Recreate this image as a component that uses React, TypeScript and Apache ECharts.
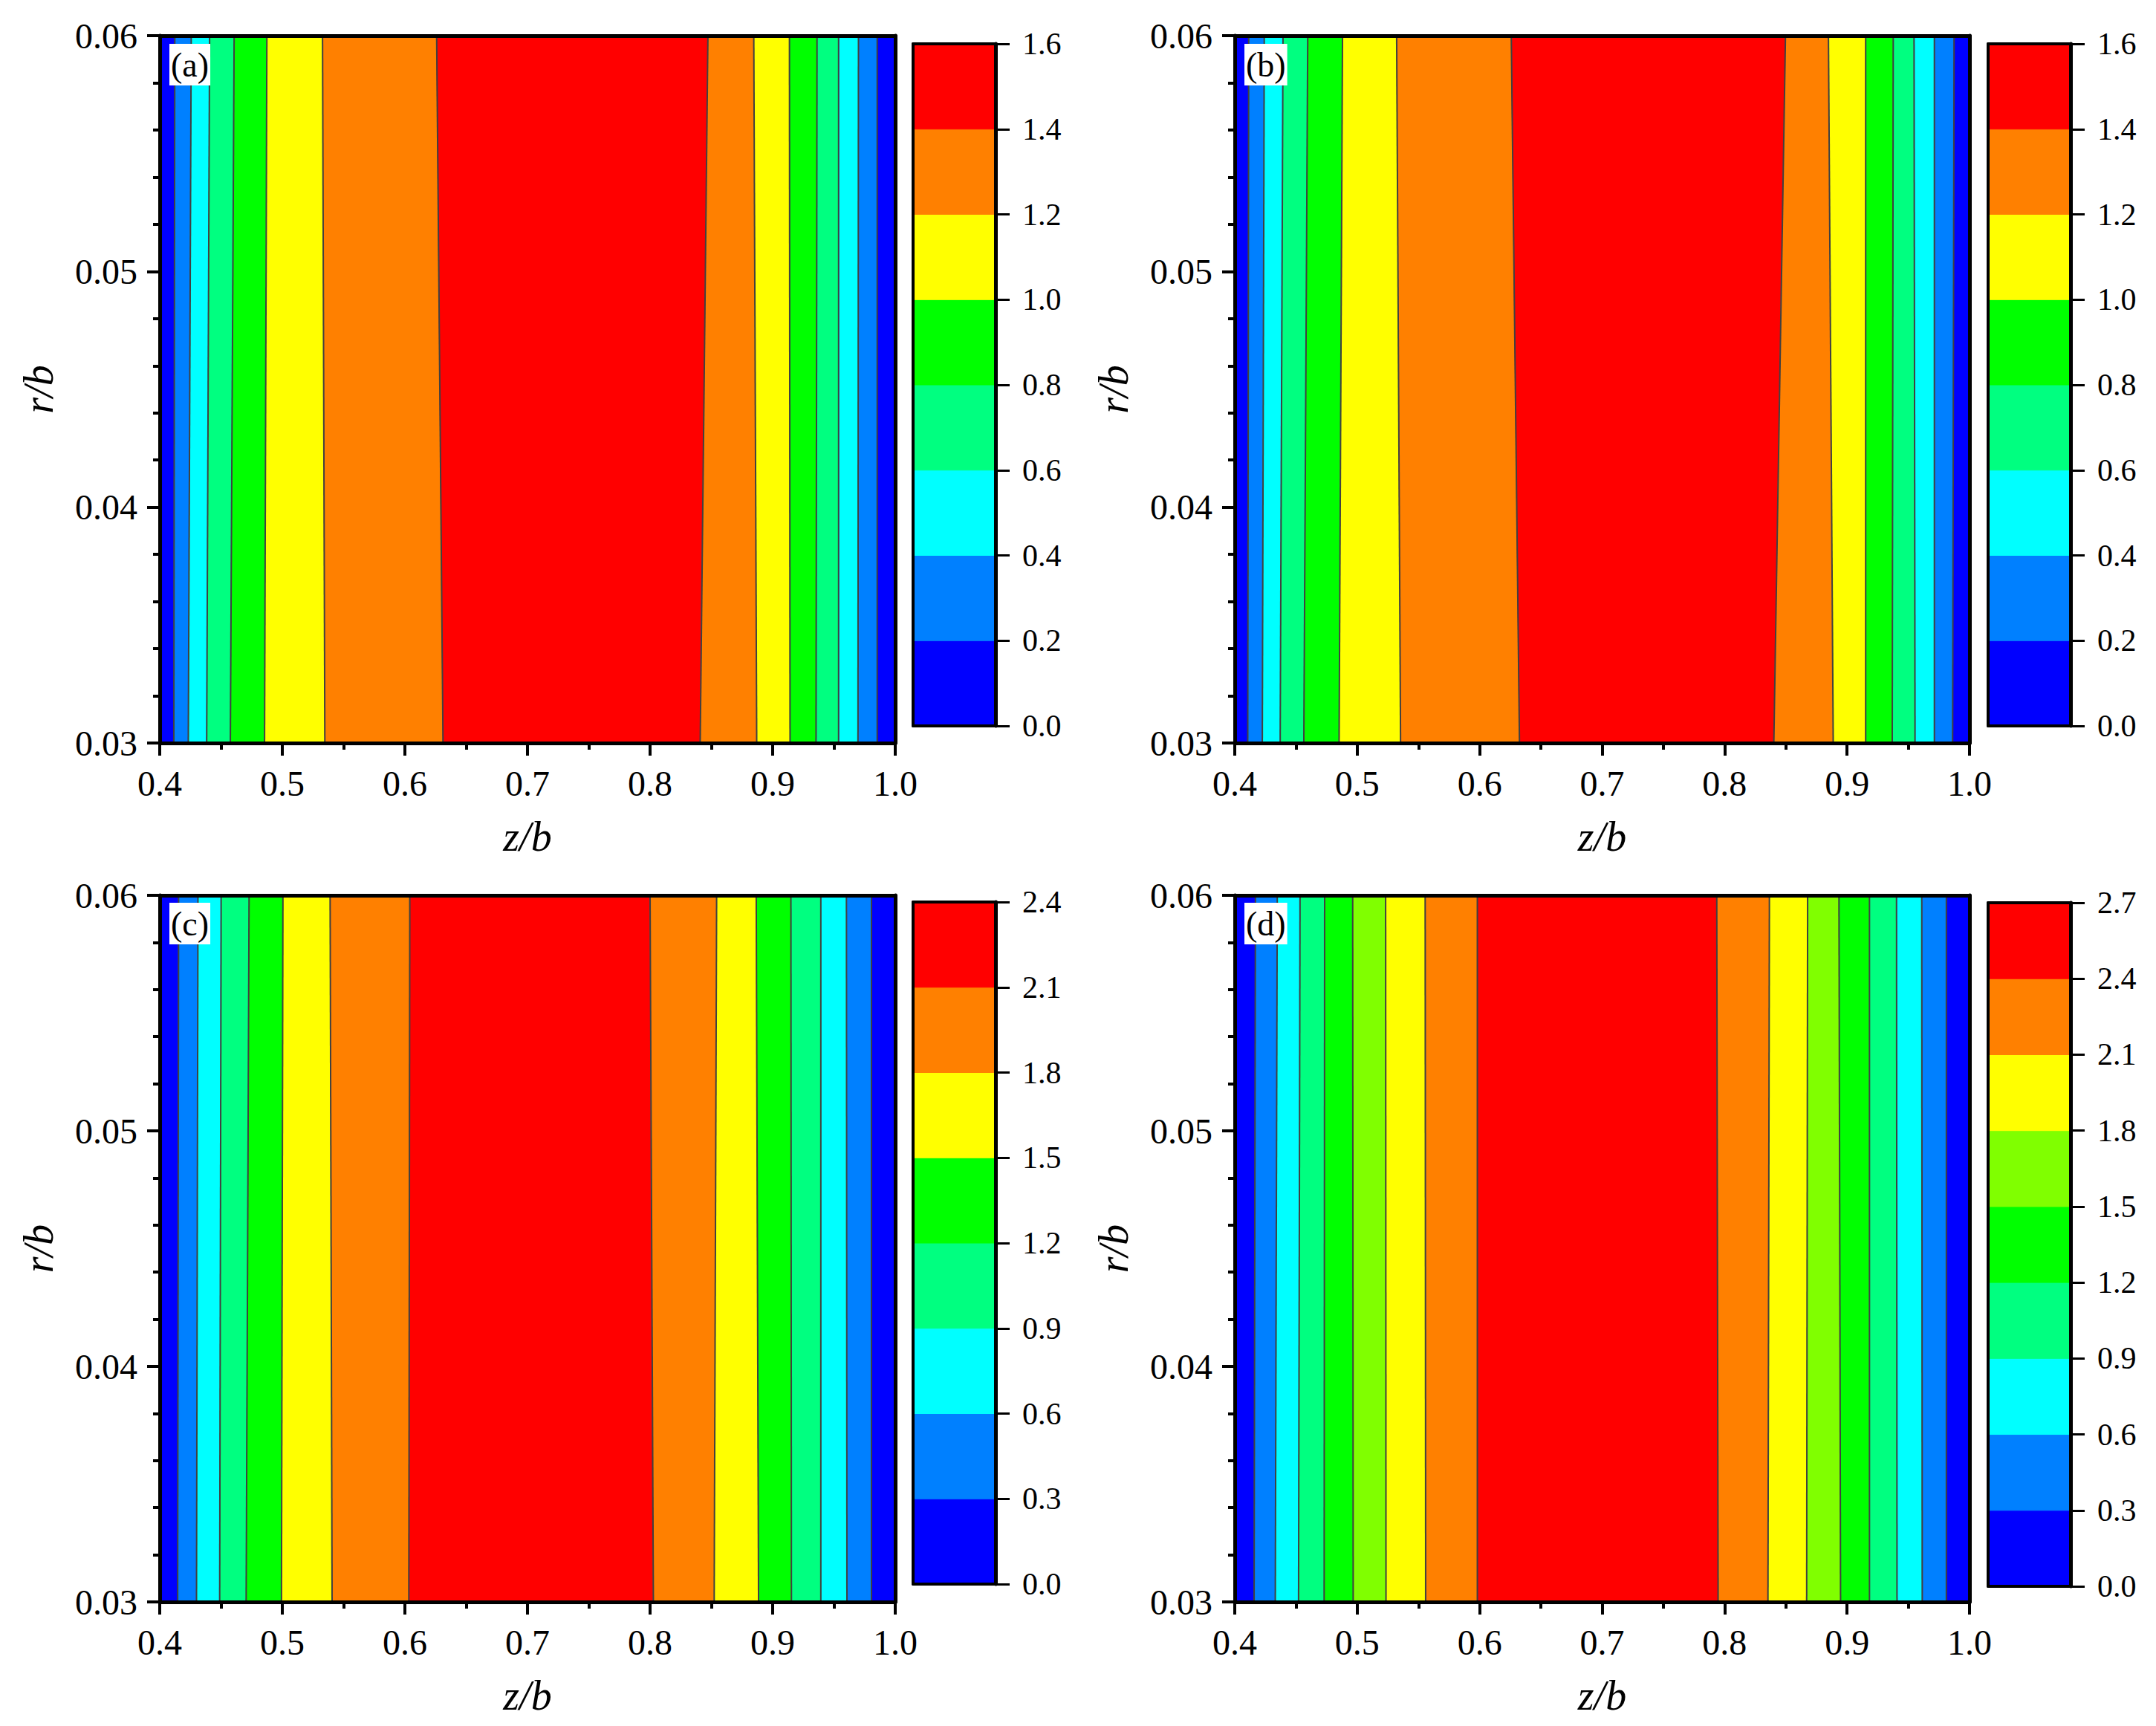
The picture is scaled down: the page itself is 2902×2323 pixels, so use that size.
import React, { useEffect, useRef } from "react";
import * as echarts from "echarts";

const FONT = "'Liberation Serif', 'Times New Roman', serif";

// band colours, lowest level first
const colors8 = ["#0000ff", "#0080ff", "#00ffff", "#00ff80", "#00ff00", "#ffff00", "#ff8000", "#ff0000"];
const colors9 = ["#0000ff", "#0080ff", "#00ffff", "#00ff80", "#00ff00", "#80ff00", "#ffff00", "#ff8000", "#ff0000"];

// colour-bar levels
const levelsA = [0, 0.2, 0.4, 0.6, 0.8, 1.0, 1.2, 1.4, 1.6];
const levelsB = [0, 0.2, 0.4, 0.6, 0.8, 1.0, 1.2, 1.4, 1.6];
const levelsC = [0, 0.3, 0.6, 0.9, 1.2, 1.5, 1.8, 2.1, 2.4];
const levelsD = [0, 0.3, 0.6, 0.9, 1.2, 1.5, 1.8, 2.1, 2.4, 2.7];

// level band index of each region, left (z/b = 0.4) to right (z/b = 1.0)
const bandsA = [0, 1, 2, 3, 4, 5, 6, 7, 6, 5, 4, 3, 2, 1, 0];
const bandsB = [0, 1, 2, 3, 4, 5, 6, 7, 6, 5, 4, 3, 2, 1, 0];
const bandsC = [0, 1, 2, 3, 4, 5, 6, 7, 6, 5, 4, 3, 2, 1, 0];
const bandsD = [0, 1, 2, 3, 4, 5, 6, 7, 8, 7, 6, 5, 4, 3, 2, 1, 0];

// contour positions (z/b) at r/b = 0.06 (top) and r/b = 0.03 (bottom)
const zTopA = [0.4123, 0.4257, 0.4407, 0.4607, 0.4874, 0.5328, 0.6259, 0.8472, 0.8846, 0.9137, 0.9362, 0.9538, 0.97, 0.9853];
const zBotA = [0.4115, 0.4233, 0.4383, 0.4576, 0.4855, 0.5347, 0.6311, 0.8409, 0.887, 0.9142, 0.9354, 0.9538, 0.9696, 0.9853];
const zTopB = [0.4114, 0.4241, 0.4394, 0.4596, 0.488, 0.5322, 0.6258, 0.8497, 0.8848, 0.9152, 0.9377, 0.9547, 0.9713, 0.9874];
const zBotB = [0.4106, 0.4225, 0.4371, 0.4564, 0.4852, 0.5354, 0.6325, 0.8402, 0.8887, 0.9152, 0.9369, 0.9555, 0.9713, 0.9862];
const zTopC = [0.4154, 0.4312, 0.4501, 0.4729, 0.5005, 0.539, 0.604, 0.8, 0.8543, 0.8866, 0.9149, 0.9393, 0.9602, 0.9806];
const zBotC = [0.4146, 0.43, 0.4489, 0.4705, 0.4993, 0.5406, 0.6032, 0.8027, 0.8523, 0.8885, 0.9153, 0.9393, 0.9606, 0.9806];
const zTopD = [0.4169, 0.4347, 0.4533, 0.4734, 0.4963, 0.5232, 0.5555, 0.5981, 0.7936, 0.8366, 0.8678, 0.8934, 0.9183, 0.9404, 0.961, 0.9811];
const zBotD = [0.4158, 0.4331, 0.4521, 0.473, 0.4967, 0.5235, 0.5559, 0.5981, 0.7947, 0.8354, 0.867, 0.8947, 0.9183, 0.9408, 0.9614, 0.9811];

// axis ranges
const zRange = [0.4, 1.0];
const zStep = 0.1;
const rRange = [0.03, 0.06];
const rStep = 0.01;

const panels = [
  { label: "(a)", zTop: zTopA, zBot: zBotA, bands: bandsA, levels: levelsA, colors: colors8,
    grid: { left: 215, top: 48, width: 990, height: 952 }, cb: { left: 1229, top: 59, width: 111, height: 918 }, tag: { left: 228, top: 59 } },
  { label: "(b)", zTop: zTopB, zBot: zBotB, bands: bandsB, levels: levelsB, colors: colors8,
    grid: { left: 1662, top: 48, width: 989, height: 952 }, cb: { left: 2676, top: 59, width: 111, height: 918 }, tag: { left: 1675, top: 59 } },
  { label: "(c)", zTop: zTopC, zBot: zBotC, bands: bandsC, levels: levelsC, colors: colors8,
    grid: { left: 215, top: 1205, width: 990, height: 951 }, cb: { left: 1229, top: 1214, width: 111, height: 918 }, tag: { left: 228, top: 1215 } },
  { label: "(d)", zTop: zTopD, zBot: zBotD, bands: bandsD, levels: levelsD, colors: colors9,
    grid: { left: 1662, top: 1205, width: 989, height: 951 }, cb: { left: 2676, top: 1215, width: 111, height: 920 }, tag: { left: 1675, top: 1215 } },
];

const black = "#000";

function buildOption() {
  const grid: any[] = [];
  const xAxis: any[] = [];
  const yAxis: any[] = [];
  const series: any[] = [];
  const title: any[] = [];

  panels.forEach((p) => {
    const gi = grid.length;
    grid.push({ ...p.grid, containLabel: false });
    grid.push({ ...p.cb, containLabel: false });
    const ci = gi + 1;
    const xi = xAxis.length;
    const yi = yAxis.length;

    // main plot axes
    xAxis.push({
      type: "value", gridIndex: gi, position: "bottom", min: zRange[0], max: zRange[1], interval: zStep, z: 10,
      axisLine: { show: true, onZero: false, lineStyle: { color: black, width: 5 } },
      axisTick: { show: true, inside: false, length: 17, lineStyle: { color: black, width: 4 } },
      minorTick: { show: true, splitNumber: 2, length: 9, lineStyle: { color: black, width: 4 } },
      splitLine: { show: false }, minorSplitLine: { show: false },
      axisLabel: { fontFamily: FONT, fontSize: 48, color: black, margin: 30, showMinLabel: true, showMaxLabel: true,
        formatter: (v: number) => v.toFixed(1) },
      name: "z/b", nameLocation: "middle", nameGap: 98,
      nameTextStyle: { fontFamily: FONT, fontStyle: "italic", fontSize: 56, color: black },
    });
    xAxis.push({
      type: "value", gridIndex: gi, position: "top", min: zRange[0], max: zRange[1], z: 10,
      axisLine: { show: true, onZero: false, lineStyle: { color: black, width: 5 } },
      axisTick: { show: false }, axisLabel: { show: false }, splitLine: { show: false },
    });
    // colour-bar x axes (frame only)
    xAxis.push({
      type: "value", gridIndex: ci, position: "bottom", min: 0, max: 1, z: 10,
      axisLine: { show: true, onZero: false, lineStyle: { color: black, width: 4 } },
      axisTick: { show: false }, axisLabel: { show: false }, splitLine: { show: false },
    });
    xAxis.push({
      type: "value", gridIndex: ci, position: "top", min: 0, max: 1, z: 10,
      axisLine: { show: true, onZero: false, lineStyle: { color: black, width: 4 } },
      axisTick: { show: false }, axisLabel: { show: false }, splitLine: { show: false },
    });

    yAxis.push({
      type: "value", gridIndex: gi, position: "left", min: rRange[0], max: rRange[1], interval: rStep, z: 10,
      axisLine: { show: true, onZero: false, lineStyle: { color: black, width: 5 } },
      axisTick: { show: true, inside: false, length: 17, lineStyle: { color: black, width: 4 } },
      minorTick: { show: true, splitNumber: 5, length: 9, lineStyle: { color: black, width: 4 } },
      splitLine: { show: false }, minorSplitLine: { show: false },
      axisLabel: { fontFamily: FONT, fontSize: 48, color: black, margin: 30, showMinLabel: true, showMaxLabel: true,
        formatter: (v: number) => v.toFixed(2) },
      name: "r/b", nameLocation: "middle", nameGap: 135,
      nameTextStyle: { fontFamily: FONT, fontStyle: "italic", fontSize: 56, color: black },
    });
    yAxis.push({
      type: "value", gridIndex: gi, position: "right", min: rRange[0], max: rRange[1], z: 10,
      axisLine: { show: true, onZero: false, lineStyle: { color: black, width: 5 } },
      axisTick: { show: false }, axisLabel: { show: false }, splitLine: { show: false },
    });
    const lv = p.levels;
    yAxis.push({
      type: "value", gridIndex: ci, position: "left", min: lv[0], max: lv[lv.length - 1], z: 10,
      axisLine: { show: true, onZero: false, lineStyle: { color: black, width: 4 } },
      axisTick: { show: false }, axisLabel: { show: false }, splitLine: { show: false },
    });
    yAxis.push({
      type: "value", gridIndex: ci, position: "right", min: lv[0], max: lv[lv.length - 1], interval: lv[1] - lv[0], z: 10,
      axisLine: { show: true, onZero: false, lineStyle: { color: black, width: 5 } },
      axisTick: { show: true, inside: false, length: 19, lineStyle: { color: black, width: 3 } },
      splitLine: { show: false },
      axisLabel: { fontFamily: FONT, fontSize: 42, color: black, margin: 36, showMinLabel: true, showMaxLabel: true,
        formatter: (v: number) => v.toFixed(1) },
    });

    // filled contour bands
    const n = p.bands.length;
    const bandData = p.bands.map((b, i) => [
      i === 0 ? zRange[0] : p.zTop[i - 1],
      i === n - 1 ? zRange[1] : p.zTop[i],
      i === 0 ? zRange[0] : p.zBot[i - 1],
      i === n - 1 ? zRange[1] : p.zBot[i],
      rRange[1],
      rRange[0],
      b,
    ]);
    const colors = p.colors;
    series.push({
      type: "custom", xAxisIndex: xi, yAxisIndex: yi, z: 2, silent: true,
      encode: { x: [0, 1, 2, 3], y: [4, 5] },
      data: bandData,
      renderItem: (_params: any, api: any) => {
        const a = api.coord([api.value(0), api.value(4)]);
        const b = api.coord([api.value(1), api.value(4)]);
        const c = api.coord([api.value(3), api.value(5)]);
        const d = api.coord([api.value(2), api.value(5)]);
        const col = colors[api.value(6)];
        return { type: "polygon", shape: { points: [a, b, c, d] }, style: { fill: col, stroke: col, lineWidth: 1 } };
      },
    });
    // contour lines
    const lineData = p.zTop.map((zt, i) => [zt, p.zBot[i], rRange[1], rRange[0]]);
    series.push({
      type: "custom", xAxisIndex: xi, yAxisIndex: yi, z: 3, silent: true,
      encode: { x: [0, 1], y: [2, 3] },
      data: lineData,
      renderItem: (_params: any, api: any) => {
        const a = api.coord([api.value(0), api.value(2)]);
        const b = api.coord([api.value(1), api.value(3)]);
        return { type: "line", shape: { x1: a[0], y1: a[1], x2: b[0], y2: b[1] }, style: { stroke: "#404040", lineWidth: 2 } };
      },
    });
    // colour bar
    const cbData = colors.map((_c, i) => [0, 1, lv[i], lv[i + 1], i]);
    series.push({
      type: "custom", xAxisIndex: xi + 2, yAxisIndex: yi + 3, z: 2, silent: true,
      encode: { x: [0, 1], y: [2, 3] },
      data: cbData,
      renderItem: (_params: any, api: any) => {
        const a = api.coord([api.value(0), api.value(3)]);
        const b = api.coord([api.value(1), api.value(2)]);
        const col = colors[api.value(4)];
        return { type: "rect", shape: { x: a[0], y: a[1], width: b[0] - a[0], height: b[1] - a[1] }, style: { fill: col, stroke: col, lineWidth: 1 } };
      },
    });

    title.push({
      text: p.label, left: p.tag.left, top: p.tag.top, backgroundColor: "#fff", padding: [2, 2, 2, 2],
      textStyle: { fontFamily: FONT, fontSize: 46, fontWeight: "normal", color: black, lineHeight: 52 },
    });
  });

  return { animation: false, backgroundColor: "#fff", title, grid, xAxis, yAxis, series };
}

export default function App() {
  const ref = useRef<HTMLDivElement>(null);
  useEffect(() => {
    const chart = echarts.init(ref.current!, null, { renderer: "svg" });
    chart.setOption(buildOption());
    return () => chart.dispose();
  }, []);
  return <div ref={ref} style={{ position: "fixed", left: 0, top: 0, width: 2902, height: 2323, background: "#fff" }} />;
}
